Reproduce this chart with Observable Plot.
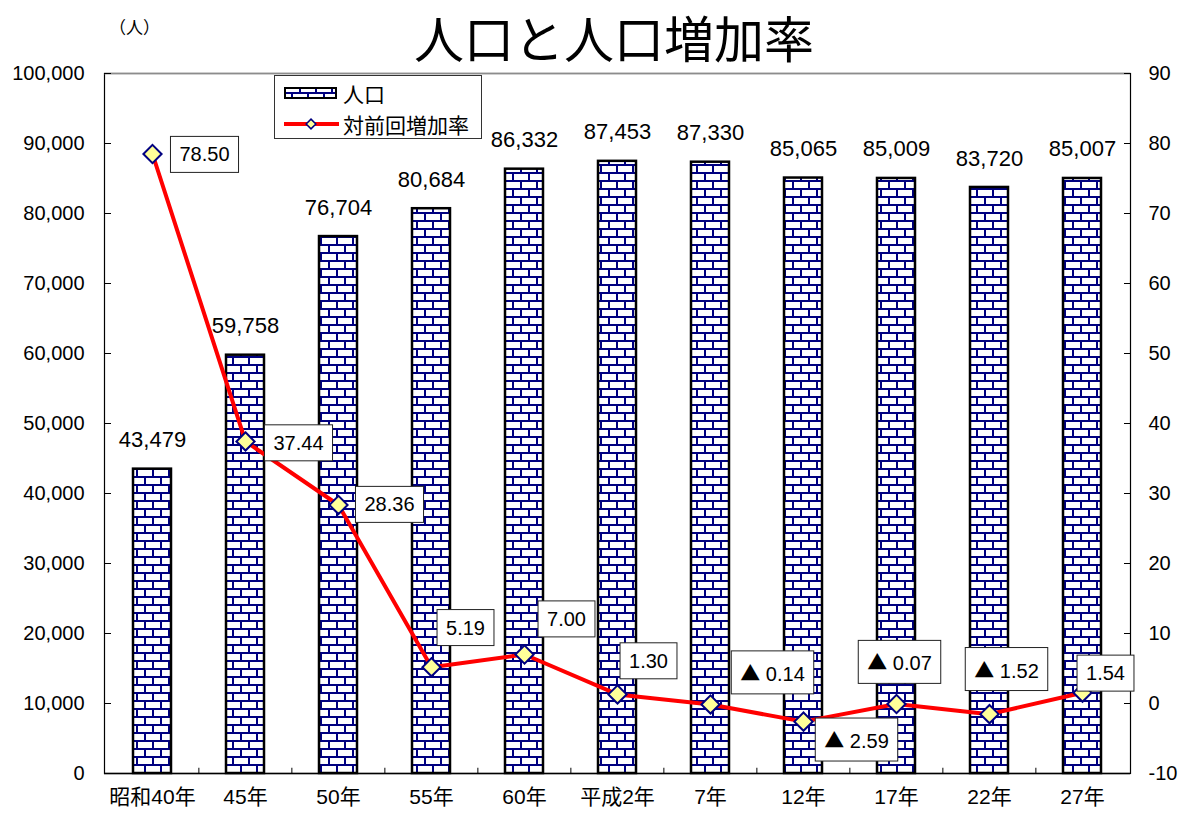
<!DOCTYPE html>
<html>
<head>
<meta charset="utf-8">
<script src="https://cdn.jsdelivr.net/npm/d3@7"></script>
<script src="https://cdn.jsdelivr.net/npm/@observablehq/plot@0.6"></script>
<style>
  body { margin: 0; background: #fff; }
  #wrap { position: relative; width: 1185px; height: 813px; font-family: 'Liberation Sans', 'Noto Sans CJK JP', sans-serif; color: #000; }
  #title { position: absolute; left: 0; top: 0; width: 1142px; padding-left: 43px; margin: 0; text-align: center; font-family: 'Noto Sans CJK JP', sans-serif; font-weight: normal; font-size: 50px; line-height: normal; }
  #unit { position: absolute; left: 109px; top: 15px; font-family: 'Noto Sans CJK JP', sans-serif; font-size: 17px; line-height: 24px; }
  #chart { position: absolute; left: 0; top: 60px; }
  #legend { position: absolute; left: 274px; top: 75px; width: 206px; height: 62px; border: 1px solid #333; background: #fff; }
  #legend span { position: absolute; left: 68px; font-family: 'Noto Sans CJK JP', sans-serif; font-size: 21px; line-height: 24px; }
</style>
</head>
<body>
<div id="wrap">
  <h1 id="title">人口と人口増加率</h1>
  <div id="unit">（人）</div>
  <div id="chart"></div>
  <div id="legend"></div>
</div>
<script>
// ---- data ----
const categories = ["昭和40年", "45年", "50年", "55年", "60年", "平成2年", "7年", "12年", "17年", "22年", "27年"];
const population = [43479, 59758, 76704, 80684, 86332, 87453, 87330, 85065, 85009, 83720, 85007];
const growthRate = [78.50, 37.44, 28.36, 5.19, 7.00, 1.30, -0.14, -2.59, -0.07, -1.52, 1.54];
const leftTicks = [0, 10000, 20000, 30000, 40000, 50000, 60000, 70000, 80000, 90000, 100000];
const rightTicks = [-10, 0, 10, 20, 30, 40, 50, 60, 70, 80, 90];
const legendLabels = ["人口", "対前回増加率"];

// ---- layout (pixel offsets of rate labels from their points) ----
const rateLabelOffsets = [[52, 1], [53, 2], [51, 0], [34, -39], [42, -35], [31, -33], [62, -30], [53, 20], [3, -40], [17, -43], [23, -19]];

const W = 1185, H = 753, mL = 104, mR = 55, mT = 13, mB = 40;
const step = (W - mL - mR) / categories.length;

// right axis (-10..90) mapped onto left axis (0..100000)
const rateToY = r => (r - rightTicks[0]) * 1000;
const fmtRate = r => r < 0 ? "▲ " + Math.abs(r).toFixed(2) : r.toFixed(2);

const rows = categories.map((c, i) => ({cat: c, pop: population[i], rate: growthRate[i], i}));

const NAVY = "#000080";
const FONT = "'Liberation Sans', 'Noto Sans CJK JP', sans-serif";

const rateLabelMarks = rows.map((d, i) =>
  Plot.text([d], {
    x: "cat", y: r => rateToY(r.rate), text: r => fmtRate(r.rate),
    dx: rateLabelOffsets[i][0], dy: rateLabelOffsets[i][1],
    fontSize: 20, fill: "#000", className: "ratelabel"
  })
);

const chart = Plot.plot({
  width: W, height: H,
  marginLeft: mL, marginRight: mR, marginTop: mT, marginBottom: mB,
  style: {fontFamily: FONT, fontSize: "20px", color: "#000", background: "transparent", overflow: "visible"},
  x: {type: "band", domain: categories, paddingInner: 0.59, paddingOuter: 0.295, axis: null},
  y: {domain: [leftTicks[0], leftTicks[leftTicks.length - 1]], axis: null},
  marks: [
    Plot.barY(rows, {x: "cat", y: "pop", fill: "url(#brick)", stroke: "#000", strokeWidth: 2.5}),
    Plot.frame({stroke: "#000", strokeWidth: 1.2}),
    Plot.ruleY([leftTicks[leftTicks.length - 1]], {stroke: "#8c8c8c", strokeWidth: 1.5}),
    Plot.ruleY([0], {stroke: "#000", strokeWidth: 1.5}),
    Plot.ruleX(categories.slice(1), {x: d => d, y1: 0, y2: 750, dx: -step / 2, stroke: "#000"}),
    Plot.axisY({ticks: leftTicks, tickFormat: d3.format(","), anchor: "left", tickSize: -7, tickPadding: 27, fontSize: 20, label: null}),
    Plot.axisY({ticks: leftTicks, tickFormat: d => String(d / 1000 + rightTicks[0]), anchor: "right", tickSize: -7, tickPadding: 25, fontSize: 20, label: null}),
    Plot.axisX({anchor: "bottom", tickSize: 0, tickPadding: 16, fontSize: 21, label: null}),
    Plot.text(rows, {x: "cat", y: "pop", text: d => d3.format(",")(d.pop), dy: -29, fontSize: 22, fill: "#000"}),
    Plot.line(rows, {x: "cat", y: d => rateToY(d.rate), stroke: "#ff0000", strokeWidth: 4}),
    Plot.dot(rows, {x: "cat", y: d => rateToY(d.rate), symbol: "diamond2", r: 8.2, fill: "#ffff99", stroke: NAVY, strokeWidth: 2}),
    ...rateLabelMarks
  ]
});

document.getElementById("chart").append(chart);

function addBrick(svgSel, id) {
  const defs = svgSel.insert("defs", ":first-child");
  const pat = defs.append("pattern").attr("id", id).attr("patternUnits", "userSpaceOnUse").attr("width", 16).attr("height", 16);
  pat.append("rect").attr("width", 16).attr("height", 16).attr("fill", NAVY);
  pat.append("rect").attr("x", 2).attr("y", 2).attr("width", 14).attr("height", 6).attr("fill", "#fff");
  pat.append("rect").attr("x", 0).attr("y", 10).attr("width", 8).attr("height", 6).attr("fill", "#fff");
  pat.append("rect").attr("x", 10).attr("y", 10).attr("width", 6).attr("height", 6).attr("fill", "#fff");
}
addBrick(d3.select(chart), "brick");

// full-width triangle for negative values, then white boxes behind the rate labels
d3.select(chart).selectAll("g.ratelabel text").each(function () {
  const txt = this.textContent;
  if (txt.startsWith("▲")) {
    const rest = txt.slice(1);
    this.textContent = "";
    d3.select(this).append("tspan").style("font-family", "'Noto Sans CJK JP', sans-serif").text("▲");
    d3.select(this).append("tspan").attr("xml:space", "preserve").text(rest);
  }
  const b = this.getBBox();
  const px = 9, py = 7;
  const r = document.createElementNS("http://www.w3.org/2000/svg", "rect");
  r.setAttribute("x", b.x - px);
  r.setAttribute("y", b.y - py);
  r.setAttribute("width", b.width + 2 * px);
  r.setAttribute("height", b.height + 2 * py);
  const t = this.getAttribute("transform");
  if (t) r.setAttribute("transform", t);
  r.setAttribute("fill", "#fff");
  r.setAttribute("stroke", "#222");
  r.setAttribute("stroke-width", 1);
  this.parentNode.insertBefore(r, this);
});

// legend
const lg = d3.select("#legend");
const ls = lg.append("svg").attr("width", 206).attr("height", 62).style("position", "absolute").style("left", "0px").style("top", "0px");
addBrick(ls, "brick2");
ls.append("rect").attr("x", 10).attr("y", 12).attr("width", 51).attr("height", 10).attr("fill", "url(#brick2)").attr("stroke", "#000").attr("stroke-width", 2);
ls.append("line").attr("x1", 9).attr("x2", 64).attr("y1", 48).attr("y2", 48).attr("stroke", "#ff0000").attr("stroke-width", 4);
ls.append("path").attr("d", d3.symbol(d3.symbolDiamond2, 60)()).attr("transform", "translate(36,48)").attr("fill", "#ffff99").attr("stroke", NAVY).attr("stroke-width", 1.5);
lg.append("span").style("top", "5px").text(legendLabels[0]);
lg.append("span").style("top", "36px").text(legendLabels[1]);
</script>
</body>
</html>
